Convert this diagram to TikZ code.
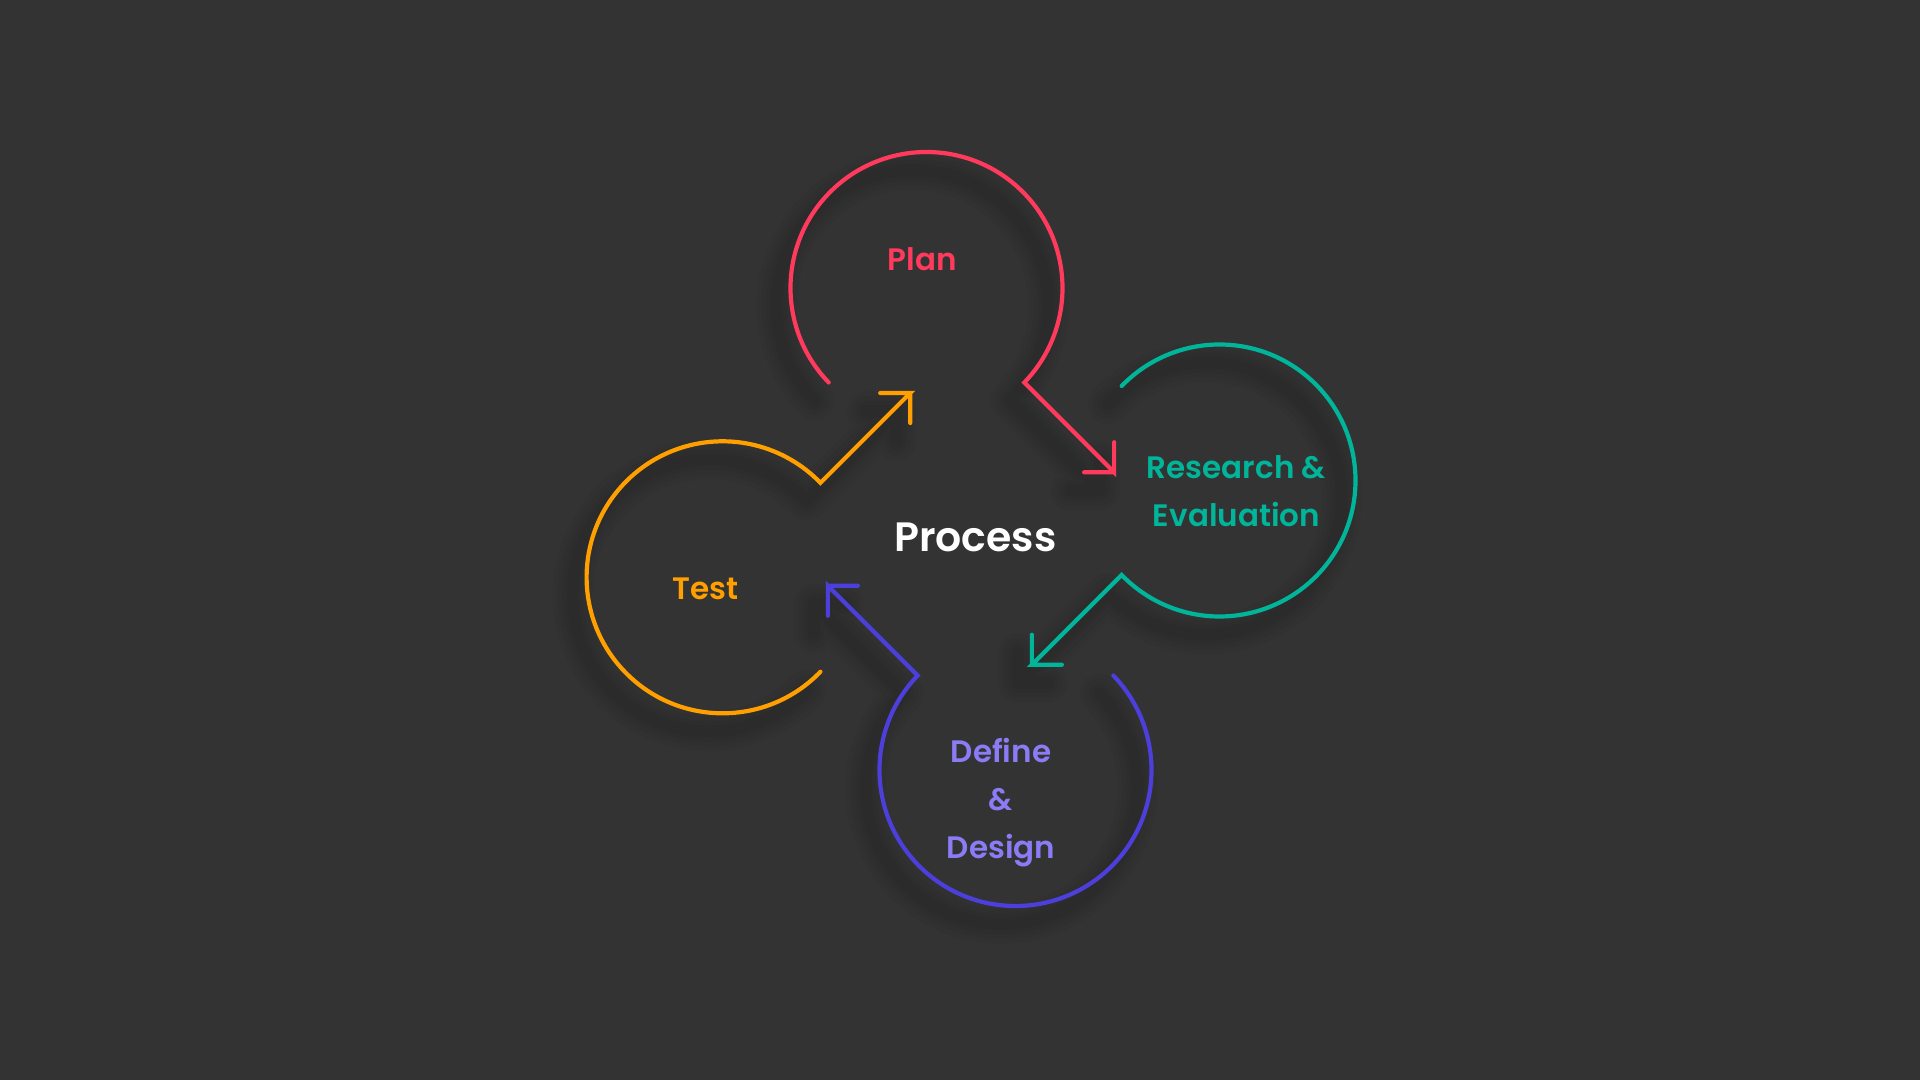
\documentclass[tikz,border=0pt]{standalone}
\usepackage{fontspec}
\setmainfont{Poppins}[BoldFont={Poppins SemiBold}]
\usetikzlibrary{calc}
\definecolor{bgc}{HTML}{333333}
\definecolor{cplan}{HTML}{FF3A5C}
\definecolor{cres}{HTML}{00B59A}
\definecolor{cdef}{HTML}{4C3FDB}
\definecolor{cdeftext}{HTML}{8B7BF5}
\definecolor{ctest}{HTML}{FFA000}
\newcommand\RingR{136}
\newcommand\ArrL{127}
\newcommand\LegL{30}
% #1 centre, #2 start angle, #3 end angle, #4 arrow direction
\newcommand\ringpath[4]{(#1) ++(#2:\RingR) arc[start angle=#2, end angle=#3, radius=\RingR] -- ++(#4:\ArrL) -- ++({#4+135}:\LegL) ++({#4-45}:\LegL) -- ++({#4-135}:\LegL)}
\newcommand\ringshadow[4]{%
  \begin{scope}[shift={(-14,-18)}]
    \foreach \w in {40,30,20,12}{\draw[shadowline=\w] \ringpath{#1}{#2}{#3}{#4};}
  \end{scope}}
\tikzset{
  ring/.style={line width=4.2pt, line cap=round, line join=miter},
  shadowline/.style={line width=#1pt, draw=black, draw opacity=0.03, line cap=round, line join=round},
  label/.style={inner sep=0pt, font=\bfseries\fontsize{31}{48}\selectfont, align=center},
  title/.style={inner sep=0pt, font=\bfseries\fontsize{41}{48}\selectfont, text=white}
}
\begin{document}
\begin{tikzpicture}[x=1pt,y=1pt]
\fill[bgc] (0,0) rectangle (1920,1080);
\useasboundingbox (0,0) rectangle (1920,1080);
% shadows
\ringshadow{926.5,792}{224}{-44}{-45}
\ringshadow{1219.5,599.5}{136}{-136}{-135}
\ringshadow{1015.5,310}{44}{-224}{135}
\ringshadow{722.6,502.7}{-44}{-316}{45}
% rings with arrows
\draw[ring, cplan] \ringpath{926.5,792}{224}{-44}{-45};
\draw[ring, cres] \ringpath{1219.5,599.5}{136}{-136}{-135};
\draw[ring, cdef] \ringpath{1015.5,310}{44}{-224}{135};
\draw[ring, ctest] \ringpath{722.6,502.7}{-44}{-316}{45};
% labels
\node[label, text=cplan, anchor=base] (plan) at (922.3,809) {Plan};
\node[label, text=cres, anchor=center] (research) at (1236.5,588.5) {Research \&\\Evaluation};
\node[label, text=cdeftext, anchor=center] (define) at (1001,277) {Define\\\&\\Design};
\node[label, text=ctest, anchor=base] (test) at (705.5,480) {Test};
\node[title, anchor=base] (process) at (975.3,528.3) {Process};
\end{tikzpicture}
\end{document}
